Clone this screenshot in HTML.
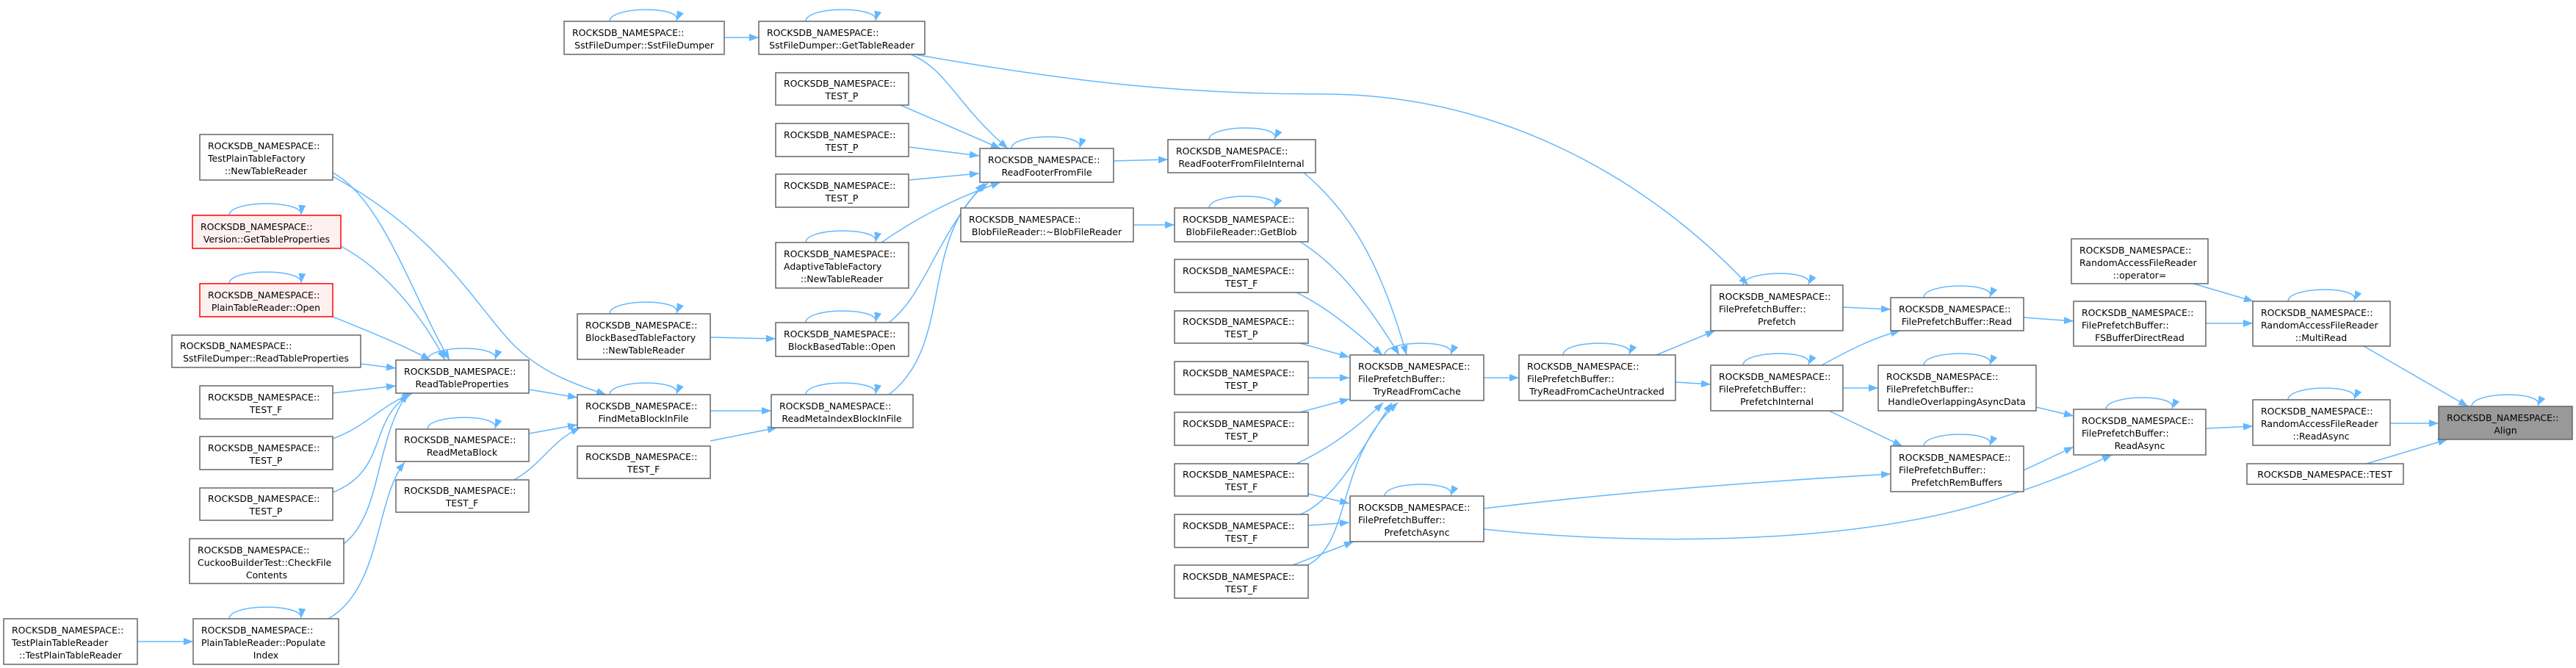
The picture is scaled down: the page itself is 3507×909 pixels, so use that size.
<!DOCTYPE html>
<html><head><meta charset="utf-8"><style>
html,body{margin:0;padding:0;background:#fff;}
svg{display:block;}
text{font-family:"DejaVu Sans","Liberation Sans",sans-serif;font-size:12.5px;fill:#000;}
.n{fill:#fff;stroke:#666;stroke-width:1.5;}
.r{fill:#fff0f0;stroke:#f00;stroke-width:1.5;}
.g{fill:#999;stroke:#666;stroke-width:1.5;}
.e{fill:none;stroke:#63b8ff;stroke-width:1.5;marker-end:url(#a);}
.m{text-anchor:middle;}
</style></head><body>
<svg width="3507" height="909" viewBox="0 0 3507 909" xmlns="http://www.w3.org/2000/svg">
<defs><marker id="a" markerUnits="userSpaceOnUse" markerWidth="13" markerHeight="10" refX="13" refY="5" orient="auto"><path d="M0,0 L13,5 L0,10 z" fill="#63b8ff"/></marker></defs>

<!-- edges -->
<path class="e" d="M986,51 L1033,51"/>
<path class="e" d="M1240,74 C1290,95 1300,140 1372,202"/>
<path class="e" d="M1245,74 C1450,110 1600,128 1800,128 C2050,128 2250,250 2380,388"/>
<path class="e" d="M1226,143 L1362,202"/>
<path class="e" d="M1237,200 L1333,212"/>
<path class="e" d="M1237,245 L1333,236"/>
<path class="e" d="M1200,330 C1250,295 1300,270 1362,248"/>
<path class="e" d="M1210,439 C1260,400 1270,330 1340,249"/>
<path class="e" d="M1210,537 C1300,470 1250,320 1345,249"/>
<path class="e" d="M1516,219 L1590,217"/>
<path class="e" d="M1543,306 L1599,306"/>
<path class="e" d="M1775,235 C1840,290 1880,360 1915,483"/>
<path class="e" d="M1770,329 C1820,360 1860,410 1905,483"/>
<path class="e" d="M1765,398 C1810,420 1850,455 1882,483"/>
<path class="e" d="M1770,467 L1837,486"/>
<path class="e" d="M1781,514 L1837,514"/>
<path class="e" d="M1770,561 L1837,543"/>
<path class="e" d="M1765,631 C1810,610 1850,580 1883,548"/>
<path class="e" d="M1770,700 C1820,680 1860,600 1895,548"/>
<path class="e" d="M1780,769 C1840,740 1820,620 1903,548"/>
<path class="e" d="M1781,672 L1837,685"/>
<path class="e" d="M1781,715 L1837,711"/>
<path class="e" d="M1760,769 L1843,737"/>
<path class="e" d="M2020,514 L2068,514"/>
<path class="e" d="M2255,483 L2335,450"/>
<path class="e" d="M2281,520 L2329,523"/>
<path class="e" d="M2020,692 C2200,670 2400,655 2574,645"/>
<path class="e" d="M2020,720 C2200,740 2500,745 2700,685 C2780,660 2830,640 2875,619"/>
<path class="e" d="M2509,418 L2574,421"/>
<path class="e" d="M2480,497 C2520,475 2550,460 2587,450"/>
<path class="e" d="M2509,528 L2557,528"/>
<path class="e" d="M2490,559 L2590,607"/>
<path class="e" d="M2755,432 L2823,437"/>
<path class="e" d="M2772,554 L2823,566"/>
<path class="e" d="M2755,640 L2823,608"/>
<path class="e" d="M3003,440 L3067,440"/>
<path class="e" d="M2986,386 L3068,410"/>
<path class="e" d="M3003,583 L3067,580"/>
<path class="e" d="M3218,471 L3360,553"/>
<path class="e" d="M3254,576 L3320,576"/>
<path class="e" d="M3222,631 L3332,598"/>
<path class="e" d="M453,235 C520,270 560,400 612,490"/>
<path class="e" d="M453,240 C600,320 650,420 700,470 C740,510 790,525 825,537"/>
<path class="e" d="M464,335 C530,370 580,440 606,490"/>
<path class="e" d="M453,431 C500,450 550,470 586,490"/>
<path class="e" d="M491,495 L539,501"/>
<path class="e" d="M453,535 L539,525"/>
<path class="e" d="M453,597 C500,580 520,550 562,535"/>
<path class="e" d="M453,670 C530,640 500,570 560,535"/>
<path class="e" d="M468,740 C520,700 510,600 555,535"/>
<path class="e" d="M187,873 L263,873"/>
<path class="e" d="M447,842 C520,800 510,680 551,629"/>
<path class="e" d="M720,530 L786,541"/>
<path class="e" d="M720,590 L786,578"/>
<path class="e" d="M700,653 C740,630 750,600 790,582"/>
<path class="e" d="M967,459 L1056,461"/>
<path class="e" d="M967,559 L1050,559"/>
<path class="e" d="M967,600 L1058,582"/>

<!-- self loops -->
<path class="e" d="M830,29 C830,8 930,8 921,28"/>
<path class="e" d="M1097,29 C1097,8 1197,8 1192,28"/>
<path class="e" d="M1097,330 C1097,309 1197,309 1192,329"/>
<path class="e" d="M1097,439 C1097,418 1197,418 1192,438"/>
<path class="e" d="M1097,537 C1097,516 1197,516 1192,536"/>
<path class="e" d="M312,293 C312,272 412,272 410,292"/>
<path class="e" d="M312,386 C312,365 412,365 410,385"/>
<path class="e" d="M312,842 C312,821 412,821 410,841"/>
<path class="e" d="M582,490 C582,469 682,469 674,489"/>
<path class="e" d="M582,584 C582,563 682,563 674,583"/>
<path class="e" d="M830,427 C830,406 930,406 921,426"/>
<path class="e" d="M830,537 C830,516 930,516 921,536"/>
<path class="e" d="M1377,202 C1377,181 1477,181 1470,201"/>
<path class="e" d="M1646,190 C1646,169 1746,169 1735,189"/>
<path class="e" d="M1646,283 C1646,262 1746,262 1735,282"/>
<path class="e" d="M1885,483 C1885,462 1985,462 1975,482"/>
<path class="e" d="M1885,675 C1885,654 1985,654 1975,674"/>
<path class="e" d="M2128,483 C2128,462 2228,462 2218,482"/>
<path class="e" d="M2373,388 C2373,367 2473,367 2462,387"/>
<path class="e" d="M2373,497 C2373,476 2473,476 2462,496"/>
<path class="e" d="M2619,405 C2619,384 2719,384 2709,404"/>
<path class="e" d="M2619,497 C2619,476 2719,476 2709,496"/>
<path class="e" d="M2619,607 C2619,586 2719,586 2709,606"/>
<path class="e" d="M2867,557 C2867,536 2967,536 2957,556"/>
<path class="e" d="M3115,410 C3115,389 3215,389 3205,409"/>
<path class="e" d="M3115,544 C3115,523 3215,523 3205,543"/>
<path class="e" d="M3365,553 C3365,532 3465,532 3455,552"/>

<!-- nodes -->
<rect class="n" x="768" y="29" width="218" height="45"/><text x="779" y="49">ROCKSDB_NAMESPACE::</text><text class="m" x="877" y="66">SstFileDumper::SstFileDumper</text>
<rect class="n" x="1033" y="29" width="226" height="45"/><text x="1044" y="49">ROCKSDB_NAMESPACE::</text><text class="m" x="1146" y="66">SstFileDumper::GetTableReader</text>
<rect class="n" x="1056" y="99" width="181" height="44"/><text x="1067" y="118">ROCKSDB_NAMESPACE::</text><text class="m" x="1146" y="135">TEST_P</text>
<rect class="n" x="1056" y="168" width="181" height="45"/><text x="1067" y="188">ROCKSDB_NAMESPACE::</text><text class="m" x="1146" y="205">TEST_P</text>
<rect class="n" x="1056" y="237" width="181" height="45"/><text x="1067" y="257">ROCKSDB_NAMESPACE::</text><text class="m" x="1146" y="274">TEST_P</text>
<rect class="n" x="1056" y="330" width="181" height="62"/><text x="1067" y="350">ROCKSDB_NAMESPACE::</text><text x="1067" y="367">AdaptiveTableFactory</text><text class="m" x="1146" y="384">::NewTableReader</text>
<rect class="n" x="1056" y="439" width="181" height="46"/><text x="1067" y="459">ROCKSDB_NAMESPACE::</text><text class="m" x="1146" y="476">BlockBasedTable::Open</text>
<rect class="n" x="1050" y="537" width="193" height="45"/><text x="1061" y="557">ROCKSDB_NAMESPACE::</text><text class="m" x="1146" y="574">ReadMetaIndexBlockInFile</text>
<rect class="n" x="272" y="183" width="181" height="62"/><text x="283" y="203">ROCKSDB_NAMESPACE::</text><text x="283" y="220">TestPlainTableFactory</text><text class="m" x="362" y="237">::NewTableReader</text>
<rect class="r" x="262" y="293" width="202" height="45"/><text x="273" y="313">ROCKSDB_NAMESPACE::</text><text class="m" x="363" y="330">Version::GetTableProperties</text>
<rect class="r" x="272" y="386" width="181" height="45"/><text x="283" y="406">ROCKSDB_NAMESPACE::</text><text class="m" x="362" y="423">PlainTableReader::Open</text>
<rect class="n" x="234" y="456" width="257" height="44"/><text x="245" y="475">ROCKSDB_NAMESPACE::</text><text class="m" x="362" y="492">SstFileDumper::ReadTableProperties</text>
<rect class="n" x="272" y="525" width="181" height="45"/><text x="283" y="545">ROCKSDB_NAMESPACE::</text><text class="m" x="362" y="562">TEST_F</text>
<rect class="n" x="272" y="594" width="181" height="45"/><text x="283" y="614">ROCKSDB_NAMESPACE::</text><text class="m" x="362" y="631">TEST_P</text>
<rect class="n" x="272" y="664" width="181" height="44"/><text x="283" y="683">ROCKSDB_NAMESPACE::</text><text class="m" x="362" y="700">TEST_P</text>
<rect class="n" x="258" y="733" width="210" height="61"/><text x="269" y="753">ROCKSDB_NAMESPACE::</text><text x="269" y="770">CuckooBuilderTest::CheckFile</text><text class="m" x="363" y="787">Contents</text>
<rect class="n" x="5" y="842" width="182" height="62"/><text x="16" y="862">ROCKSDB_NAMESPACE::</text><text x="16" y="879">TestPlainTableReader</text><text class="m" x="96" y="896">::TestPlainTableReader</text>
<rect class="n" x="263" y="842" width="198" height="62"/><text x="274" y="862">ROCKSDB_NAMESPACE::</text><text x="274" y="879">PlainTableReader::Populate</text><text class="m" x="362" y="896">Index</text>
<rect class="n" x="539" y="490" width="181" height="45"/><text x="550" y="510">ROCKSDB_NAMESPACE::</text><text class="m" x="629" y="527">ReadTableProperties</text>
<rect class="n" x="539" y="584" width="181" height="44"/><text x="550" y="603">ROCKSDB_NAMESPACE::</text><text class="m" x="629" y="620">ReadMetaBlock</text>
<rect class="n" x="539" y="653" width="181" height="44"/><text x="550" y="672">ROCKSDB_NAMESPACE::</text><text class="m" x="629" y="689">TEST_F</text>
<rect class="n" x="786" y="427" width="181" height="62"/><text x="797" y="447">ROCKSDB_NAMESPACE::</text><text x="797" y="464">BlockBasedTableFactory</text><text class="m" x="876" y="481">::NewTableReader</text>
<rect class="n" x="786" y="537" width="181" height="45"/><text x="797" y="557">ROCKSDB_NAMESPACE::</text><text class="m" x="876" y="574">FindMetaBlockInFile</text>
<rect class="n" x="786" y="607" width="181" height="44"/><text x="797" y="626">ROCKSDB_NAMESPACE::</text><text class="m" x="876" y="643">TEST_F</text>
<rect class="n" x="1334" y="202" width="182" height="46"/><text x="1345" y="222">ROCKSDB_NAMESPACE::</text><text class="m" x="1425" y="239">ReadFooterFromFile</text>
<rect class="n" x="1590" y="190" width="201" height="45"/><text x="1601" y="210">ROCKSDB_NAMESPACE::</text><text class="m" x="1690" y="227">ReadFooterFromFileInternal</text>
<rect class="n" x="1308" y="283" width="235" height="46"/><text x="1319" y="303">ROCKSDB_NAMESPACE::</text><text class="m" x="1425" y="320">BlobFileReader::~BlobFileReader</text>
<rect class="n" x="1599" y="283" width="182" height="46"/><text x="1610" y="303">ROCKSDB_NAMESPACE::</text><text class="m" x="1690" y="320">BlobFileReader::GetBlob</text>
<rect class="n" x="1599" y="353" width="182" height="45"/><text x="1610" y="373">ROCKSDB_NAMESPACE::</text><text class="m" x="1690" y="390">TEST_F</text>
<rect class="n" x="1599" y="423" width="182" height="44"/><text x="1610" y="442">ROCKSDB_NAMESPACE::</text><text class="m" x="1690" y="459">TEST_P</text>
<rect class="n" x="1599" y="492" width="182" height="45"/><text x="1610" y="512">ROCKSDB_NAMESPACE::</text><text class="m" x="1690" y="529">TEST_P</text>
<rect class="n" x="1599" y="561" width="182" height="45"/><text x="1610" y="581">ROCKSDB_NAMESPACE::</text><text class="m" x="1690" y="598">TEST_P</text>
<rect class="n" x="1599" y="631" width="182" height="44"/><text x="1610" y="650">ROCKSDB_NAMESPACE::</text><text class="m" x="1690" y="667">TEST_F</text>
<rect class="n" x="1599" y="700" width="182" height="45"/><text x="1610" y="720">ROCKSDB_NAMESPACE::</text><text class="m" x="1690" y="737">TEST_F</text>
<rect class="n" x="1599" y="769" width="182" height="45"/><text x="1610" y="789">ROCKSDB_NAMESPACE::</text><text class="m" x="1690" y="806">TEST_F</text>
<rect class="n" x="1838" y="483" width="182" height="62"/><text x="1849" y="503">ROCKSDB_NAMESPACE::</text><text x="1849" y="520">FilePrefetchBuffer::</text><text class="m" x="1929" y="537">TryReadFromCache</text>
<rect class="n" x="1838" y="675" width="182" height="62"/><text x="1849" y="695">ROCKSDB_NAMESPACE::</text><text x="1849" y="712">FilePrefetchBuffer::</text><text class="m" x="1929" y="729">PrefetchAsync</text>
<rect class="n" x="2068" y="483" width="213" height="62"/><text x="2079" y="503">ROCKSDB_NAMESPACE::</text><text x="2079" y="520">FilePrefetchBuffer::</text><text class="m" x="2174" y="537">TryReadFromCacheUntracked</text>
<rect class="n" x="2329" y="388" width="180" height="62"/><text x="2340" y="408">ROCKSDB_NAMESPACE::</text><text x="2340" y="425">FilePrefetchBuffer::</text><text class="m" x="2419" y="442">Prefetch</text>
<rect class="n" x="2329" y="497" width="180" height="62"/><text x="2340" y="517">ROCKSDB_NAMESPACE::</text><text x="2340" y="534">FilePrefetchBuffer::</text><text class="m" x="2419" y="551">PrefetchInternal</text>
<rect class="n" x="2574" y="405" width="181" height="45"/><text x="2585" y="425">ROCKSDB_NAMESPACE::</text><text class="m" x="2664" y="442">FilePrefetchBuffer::Read</text>
<rect class="n" x="2557" y="497" width="215" height="62"/><text x="2568" y="517">ROCKSDB_NAMESPACE::</text><text x="2568" y="534">FilePrefetchBuffer::</text><text class="m" x="2664" y="551">HandleOverlappingAsyncData</text>
<rect class="n" x="2574" y="607" width="181" height="62"/><text x="2585" y="627">ROCKSDB_NAMESPACE::</text><text x="2585" y="644">FilePrefetchBuffer::</text><text class="m" x="2664" y="661">PrefetchRemBuffers</text>
<rect class="n" x="2823" y="410" width="180" height="61"/><text x="2834" y="430">ROCKSDB_NAMESPACE::</text><text x="2834" y="447">FilePrefetchBuffer::</text><text class="m" x="2913" y="464">FSBufferDirectRead</text>
<rect class="n" x="2823" y="557" width="180" height="62"/><text x="2834" y="577">ROCKSDB_NAMESPACE::</text><text x="2834" y="594">FilePrefetchBuffer::</text><text class="m" x="2913" y="611">ReadAsync</text>
<rect class="n" x="2820" y="325" width="186" height="61"/><text x="2831" y="345">ROCKSDB_NAMESPACE::</text><text x="2831" y="362">RandomAccessFileReader</text><text class="m" x="2913" y="379">::operator=</text>
<rect class="n" x="3067" y="410" width="187" height="61"/><text x="3078" y="430">ROCKSDB_NAMESPACE::</text><text x="3078" y="447">RandomAccessFileReader</text><text class="m" x="3160" y="464">::MultiRead</text>
<rect class="n" x="3067" y="544" width="187" height="62"/><text x="3078" y="564">ROCKSDB_NAMESPACE::</text><text x="3078" y="581">RandomAccessFileReader</text><text class="m" x="3160" y="598">::ReadAsync</text>
<rect class="n" x="3059" y="631" width="213" height="28"/><text class="m" x="3165" y="650">ROCKSDB_NAMESPACE::TEST</text>
<rect class="g" x="3320" y="553" width="182" height="45"/><text x="3331" y="573">ROCKSDB_NAMESPACE::</text><text class="m" x="3411" y="590">Align</text>
</svg>
</body></html>
